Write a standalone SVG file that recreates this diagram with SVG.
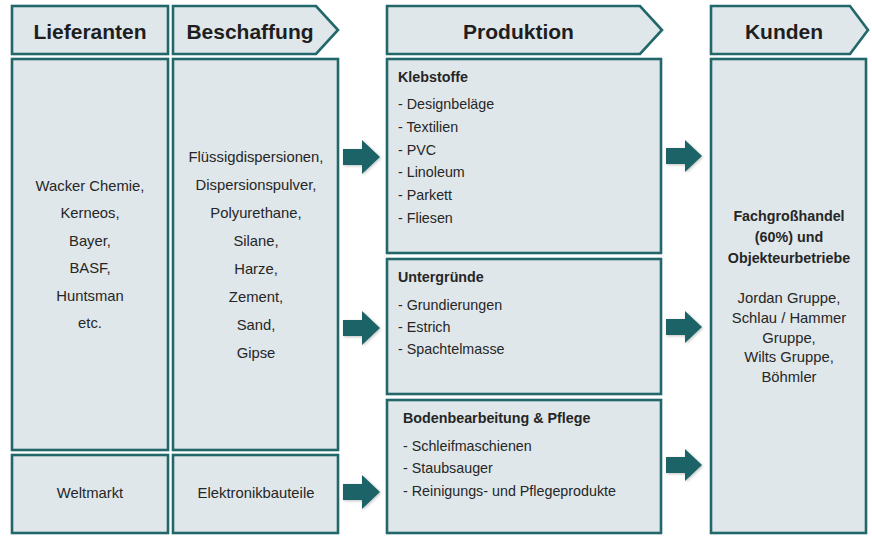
<svg xmlns="http://www.w3.org/2000/svg" width="872" height="536" viewBox="0 0 872 536">
<defs>
<style>
.box{fill:#dfe7ea;stroke:#22676a;stroke-width:2.6}
.hd{font-family:"Liberation Sans",Arial,sans-serif;font-weight:bold;font-size:21px;fill:#1e1e1e;text-anchor:middle}
.t{font-family:"Liberation Sans",Arial,sans-serif;font-size:14.8px;fill:#262626;text-anchor:middle}
.tl{font-family:"Liberation Sans",Arial,sans-serif;font-size:14.3px;fill:#262626}
.b{font-weight:bold}
.arr{fill:#1d6367}
</style>
<filter id="sh" x="-30%" y="-30%" width="160%" height="160%">
<feGaussianBlur in="SourceAlpha" stdDeviation="1.5"/>
<feOffset dx="1" dy="1" result="o"/>
<feComponentTransfer><feFuncA type="linear" slope="0.25"/></feComponentTransfer>
<feMerge><feMergeNode/><feMergeNode in="SourceGraphic"/></feMerge>
</filter>
</defs>
<rect width="872" height="536" fill="#ffffff"/>

<g id="hdr-lieferanten">
<rect class="box" x="12" y="6" width="156" height="48"/>
<text class="hd" x="90" y="39">Lieferanten</text>
</g>
<g id="hdr-beschaffung">
<polygon class="box" points="173,6 316,6 338,30 316,54 173,54"/>
<text class="hd" x="250" y="39">Beschaffung</text>
</g>
<g id="hdr-produktion">
<polygon class="box" points="387,6 640,6 662,30 640,54 387,54"/>
<text class="hd" x="518.5" y="39">Produktion</text>
</g>
<g id="hdr-kunden">
<polygon class="box" points="711,6 850,6 868,30 850,54 711,54"/>
<text class="hd" x="784" y="39">Kunden</text>
</g>

<g id="lieferanten">
<rect class="box" x="12" y="59" width="156" height="391"/>
<text class="t" x="90" y="191">Wacker Chemie,</text>
<text class="t" x="90" y="218.4">Kerneos,</text>
<text class="t" x="90" y="245.8">Bayer,</text>
<text class="t" x="90" y="273.2">BASF,</text>
<text class="t" x="90" y="300.6">Huntsman</text>
<text class="t" x="90" y="328">etc.</text>
</g>
<g id="weltmarkt">
<rect class="box" x="12" y="455" width="156" height="78"/>
<text class="t" x="90" y="498">Weltmarkt</text>
</g>
<g id="beschaffung">
<rect class="box" x="173" y="59" width="165" height="391"/>
<text class="t" x="256" y="162">Flüssigdispersionen,</text>
<text class="t" x="256" y="190">Dispersionspulver,</text>
<text class="t" x="256" y="218">Polyurethane,</text>
<text class="t" x="256" y="246">Silane,</text>
<text class="t" x="256" y="274">Harze,</text>
<text class="t" x="256" y="302">Zement,</text>
<text class="t" x="256" y="330">Sand,</text>
<text class="t" x="256" y="358">Gipse</text>
</g>
<g id="elektronik">
<rect class="box" x="173" y="455" width="165" height="78"/>
<text class="t" x="256" y="498">Elektronikbauteile</text>
</g>

<g id="klebstoffe">
<rect class="box" x="387" y="59" width="274" height="194"/>
<text class="tl b" x="398" y="82">Klebstoffe</text>
<text class="tl" x="398" y="109">- Designbeläge</text>
<text class="tl" x="398" y="132">- Textilien</text>
<text class="tl" x="398" y="154.5">- PVC</text>
<text class="tl" x="398" y="177">- Linoleum</text>
<text class="tl" x="398" y="200">- Parkett</text>
<text class="tl" x="398" y="223">- Fliesen</text>
</g>
<g id="untergruende">
<rect class="box" x="387" y="259" width="274" height="135"/>
<text class="tl b" x="398" y="282">Untergründe</text>
<text class="tl" x="398" y="310">- Grundierungen</text>
<text class="tl" x="398" y="332">- Estrich</text>
<text class="tl" x="398" y="354">- Spachtelmasse</text>
</g>
<g id="boden">
<rect class="box" x="387" y="400" width="274" height="133"/>
<text class="tl b" x="403" y="423">Bodenbearbeitung &amp; Pflege</text>
<text class="tl" x="403" y="451">- Schleifmaschienen</text>
<text class="tl" x="403" y="473">- Staubsauger</text>
<text class="tl" x="403" y="496">- Reinigungs- und Pflegeprodukte</text>
</g>

<g id="kunden">
<rect class="box" x="711" y="59" width="155" height="474"/>
<text class="t b" x="789" y="221" style="font-size:14.3px">Fachgroßhandel</text>
<text class="t b" x="789" y="242" style="font-size:14.3px">(60%) und</text>
<text class="t b" x="789" y="263" style="font-size:14.3px">Objekteurbetriebe</text>
<text class="t" x="789" y="303">Jordan Gruppe,</text>
<text class="t" x="789" y="323">Schlau / Hammer</text>
<text class="t" x="789" y="342.5">Gruppe,</text>
<text class="t" x="789" y="362">Wilts Gruppe,</text>
<text class="t" x="789" y="381.5">Böhmler</text>
</g>

<g id="connectors" filter="url(#sh)">
<polygon class="arr" points="343,149 362,149 362,140 380,157 362,174 362,165 343,165"/>
<polygon class="arr" points="343,320 362,320 362,311 380,328 362,345 362,336 343,336"/>
<polygon class="arr" points="343,484 362,484 362,475 380,492 362,509 362,500 343,500"/>
<polygon class="arr" points="666,148 685,148 685,140 702,156 685,172 685,164 666,164"/>
<polygon class="arr" points="666,319 685,319 685,311 702,327 685,343 685,335 666,335"/>
<polygon class="arr" points="666,457 685,457 685,449 702,465 685,481 685,473 666,473"/>
</g>
</svg>
